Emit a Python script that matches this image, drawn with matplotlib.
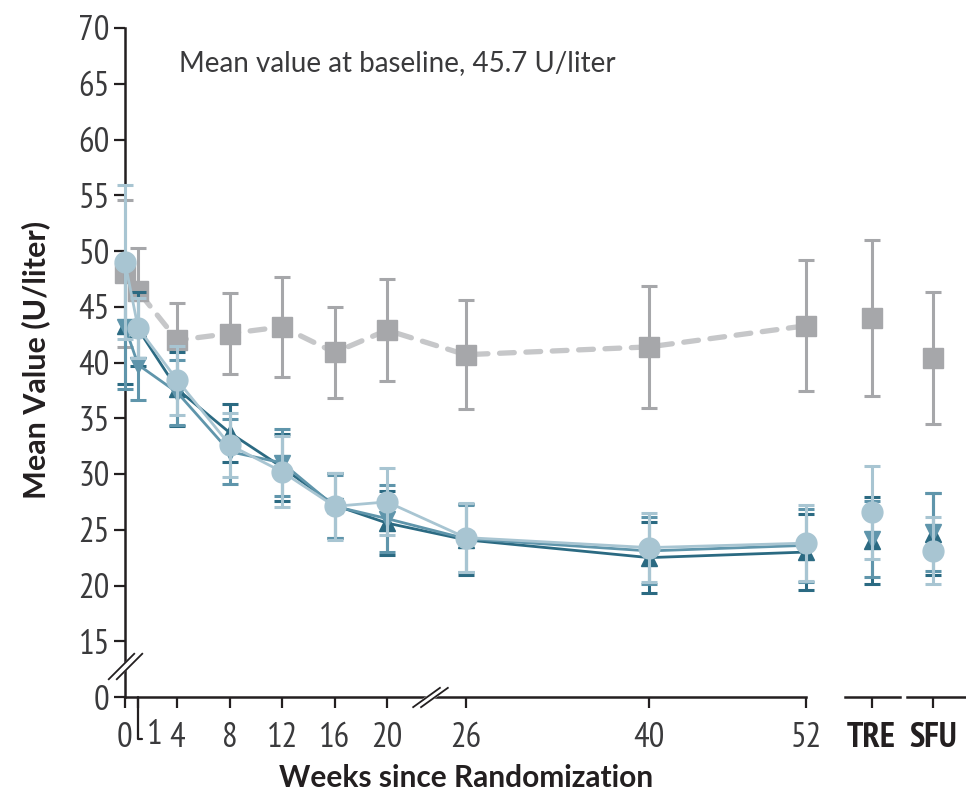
import numpy as np
import matplotlib.pyplot as plt
import matplotlib.path as mpath

# semanas del estudio y posiciones extra para TRE y SFU
weeks = [0, 1, 4, 8, 12, 16, 20, 26, 40, 52]
tick_labels = ['0', '', '4', '8', '12', '16', '20', '26', '40', '52']
end_pos = [57.0, 61.7]
end_labels = ['TRE', 'SFU']

# placebo (cuadros grises)
placebo = [48.0, 46.4, 42.0, 42.6, 43.2, 40.9, 42.9, 40.7, 41.4, 43.3]
placebo_err = [6.6, 3.9, 3.3, 3.6, 4.5, 4.1, 4.6, 4.9, 5.5, 5.9]
placebo_end = [44.0, 40.4]
placebo_end_err = [7.0, 5.9]

# grupo oscuro (triangulo arriba)
dark = [43.3, 43.0, 37.6, 33.7, 30.6, 27.2, 25.6, 24.1, 22.5, 23.0]
dark_err = [5.2, 3.3, 3.3, 2.6, 3.0, 2.9, 2.9, 3.2, 3.2, 3.4]
dark_end = [24.0, 24.6]
dark_end_err = [3.9, 3.7]

# grupo medio (triangulo abajo)
mid = [43.2, 39.8, 37.3, 32.0, 31.0, 27.1, 26.0, 24.2, 23.1, 23.6]
mid_err = [5.6, 3.2, 2.9, 2.9, 3.0, 2.8, 3.0, 3.0, 3.0, 3.3]
mid_end = [24.2, 24.8]
mid_end_err = [3.4, 3.5]

# grupo claro (circulos)
light = [49.0, 43.1, 38.4, 32.6, 30.2, 27.1, 27.5, 24.3, 23.4, 23.8]
light_err = [6.9, 2.7, 3.1, 2.9, 3.2, 3.0, 3.0, 3.1, 3.1, 3.4]
light_end = [26.55, 23.1]
light_end_err = [4.2, 3.0]

# eje y: el 0 se dibuja en la posicion 10 (eje cortado)
ytick_pos = [10, 15, 20, 25, 30, 35, 40, 45, 50, 55, 60, 65, 70]
ytick_labels = ['0', '15', '20', '25', '30', '35', '40', '45', '50', '55', '60', '65', '70']

GRAY = '#a6a7aa'
GRAY_LINE = '#c6c7c9'
DARK = '#2b6a82'
MID = '#5f95ab'
LIGHT = '#a8c5d2'
AXC = '#231f20'
TXT = '#3a3a3c'

plt.rcParams['font.family'] = ['Lato', 'DejaVu Sans']
NARROW = ['PT Sans Narrow', 'Lato', 'DejaVu Sans']

fig = plt.figure(figsize=(9.66, 7.97), dpi=100)
ax = fig.add_axes([125/966, 100/797, 841/966, 669/797])
ax.set_xlim(0, 64.2)
ax.set_ylim(10, 70)

cap = 5.8
elw = 2.2

# placebo
ax.plot(weeks, placebo, ls=(0, (2.8, 2.2)), lw=3.8, color=GRAY_LINE, zorder=2,
        solid_capstyle='round', dash_capstyle='round')
ax.errorbar(weeks + end_pos, placebo + placebo_end, yerr=placebo_err + placebo_end_err,
            fmt='s', ms=14, color=GRAY, ecolor=GRAY, elinewidth=elw, capsize=cap,
            capthick=elw, zorder=3, clip_on=False)

series = [(dark, dark_err, dark_end, dark_end_err, DARK, '^', 12),
          (mid, mid_err, mid_end, mid_end_err, MID, 'v', 12),
          (light, light_err, light_end, light_end_err, LIGHT, 'o', 15)]
z = 4
for vals, err, vend, eend, col, mk, ms in series:
    ax.plot(weeks, vals, color=col, lw=2.0, zorder=z, clip_on=False)
    ax.errorbar(weeks + end_pos, vals + vend, yerr=err + eend, fmt=mk, ms=ms,
                color=col, ecolor=col, elinewidth=elw, capsize=cap, capthick=elw,
                zorder=z + 1, clip_on=False)
    z += 2

# ejes
for s in ['top', 'right', 'bottom']:
    ax.spines[s].set_visible(False)
ax.spines['left'].set_color(AXC)
ax.spines['left'].set_linewidth(1.8)
xt = ax.get_xaxis_transform()
ax.plot([0, 52], [0, 0], color=AXC, lw=1.8, transform=xt, clip_on=False, zorder=1)
ax.plot([54.95, 59.15], [0, 0], color=AXC, lw=1.8, transform=xt, clip_on=False)
ax.plot([59.7, 64.1], [0, 0], color=AXC, lw=1.8, transform=xt, clip_on=False)

ax.set_yticks(ytick_pos)
ax.set_yticklabels(ytick_labels, family=NARROW)
ax.set_xticks(weeks + end_pos)
ax.set_xticklabels(tick_labels + end_labels, family=NARROW)
ax.tick_params(axis='both', direction='out', length=8, width=1.6, color=AXC,
               labelsize=25, labelcolor=TXT)
ax.tick_params(axis='x', pad=10)
ax.tick_params(axis='y', pad=3)
for lab in ax.get_xticklabels()[-2:]:
    lab.set_fontweight('bold')
    lab.set_color(AXC)
    lab.set_fontsize(25)

# etiqueta de la semana 1 con linea guia
ax.annotate('1', xy=(1, 0), xycoords=xt, xytext=(6, -27), textcoords='offset points',
            fontsize=25, family=NARROW, color=TXT, va='center', ha='left',
            arrowprops=dict(arrowstyle='-', color=AXC, lw=1.6, shrinkA=1, shrinkB=0,
                            relpos=(0, 0.35),
                            connectionstyle='angle,angleA=0,angleB=90,rad=0'))

# marcas de corte
brk = mpath.Path([(-1.3, -1), (0.7, 1), (-0.7, -1), (1.3, 1)],
                 [mpath.Path.MOVETO, mpath.Path.LINETO, mpath.Path.MOVETO, mpath.Path.LINETO])
fill = mpath.Path([(-1.0, -1), (1.0, 1)])
yt = ax.get_yaxis_transform()
ax.plot([0], [12.8], marker=fill, ms=22, mew=5, mec='white', transform=yt, clip_on=False, zorder=8)
ax.plot([0], [12.8], marker=brk, ms=25, mew=1.3, mec=AXC, mfc='none', transform=yt, clip_on=False, zorder=9)
brk2 = mpath.Path([(-1.6, -0.9), (0.9, 0.9), (-0.9, -0.9), (1.6, 0.9)],
                  [mpath.Path.MOVETO, mpath.Path.LINETO, mpath.Path.MOVETO, mpath.Path.LINETO])
fill2 = mpath.Path([(-1.25, -0.9), (1.25, 0.9)])
ax.plot([23.3], [0], marker=fill2, ms=22, mew=5, mec='white', transform=xt, clip_on=False, zorder=8)
ax.plot([23.3], [0], marker=brk2, ms=26, mew=1.3, mec=AXC, mfc='none', transform=xt, clip_on=False, zorder=9)

ax.text(0.064, 0.948, 'Mean value at baseline, 45.7 U/liter', transform=ax.transAxes,
        fontsize=20, color=TXT, va='center', ha='left')

fig.text(36/966, 1 - 360/797, 'Mean Value (U/liter)', fontsize=22, fontweight='bold',
         color=AXC, rotation=90, ha='center', va='center')
fig.text(466/966, 1 - 778/797, 'Weeks since Randomization', fontsize=21.5,
         fontweight='bold', color=AXC, ha='center', va='center')

fig.savefig('out.png', dpi=100)
